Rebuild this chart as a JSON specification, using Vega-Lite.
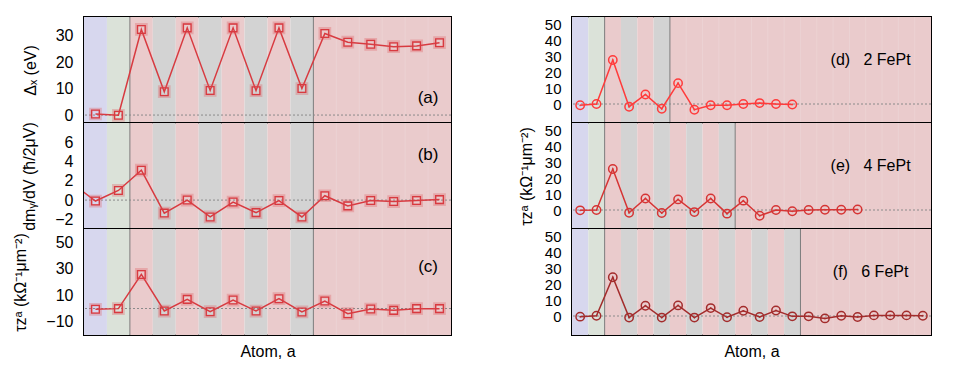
{
  "$schema": "https://vega.github.io/schema/vega-lite/v6.json",
  "padding": {"left": 11, "top": 15, "right": 5, "bottom": 5},
  "config": {
    "font": "Liberation Sans",
    "view": {"stroke": "black", "strokeWidth": 2},
    "axis": {"grid": false, "labelColor": "black", "titleColor": "black", "titleFontWeight": "normal", "labelFont": "Liberation Sans", "titleFont": "Liberation Sans"}
  },
  "datasets": {
    "bandsL": [
      {"lo": 0.5, "hi": 1.5, "k": "blue"}, {"lo": 1.5, "hi": 2.5, "k": "green"},
      {"lo": 2.5, "hi": 3.5, "k": "red"}, {"lo": 3.5, "hi": 4.5, "k": "gray"},
      {"lo": 4.5, "hi": 5.5, "k": "red"}, {"lo": 5.5, "hi": 6.5, "k": "gray"},
      {"lo": 6.5, "hi": 7.5, "k": "red"}, {"lo": 7.5, "hi": 8.5, "k": "gray"},
      {"lo": 8.5, "hi": 9.5, "k": "red"}, {"lo": 9.5, "hi": 10.5, "k": "gray"},
      {"lo": 10.5, "hi": 16.5, "k": "red"}
    ],
    "bandsD": [
      {"lo": 0.5, "hi": 1.5, "k": "blue"}, {"lo": 1.5, "hi": 2.5, "k": "green"},
      {"lo": 2.5, "hi": 3.5, "k": "red"}, {"lo": 3.5, "hi": 4.5, "k": "gray"},
      {"lo": 4.5, "hi": 5.5, "k": "red"}, {"lo": 5.5, "hi": 6.5, "k": "gray"},
      {"lo": 6.5, "hi": 22.5, "k": "red"}
    ],
    "bandsE": [
      {"lo": 0.5, "hi": 1.5, "k": "blue"}, {"lo": 1.5, "hi": 2.5, "k": "green"},
      {"lo": 2.5, "hi": 3.5, "k": "red"}, {"lo": 3.5, "hi": 4.5, "k": "gray"},
      {"lo": 4.5, "hi": 5.5, "k": "red"}, {"lo": 5.5, "hi": 6.5, "k": "gray"},
      {"lo": 6.5, "hi": 7.5, "k": "red"}, {"lo": 7.5, "hi": 8.5, "k": "gray"},
      {"lo": 8.5, "hi": 9.5, "k": "red"}, {"lo": 9.5, "hi": 10.5, "k": "gray"},
      {"lo": 10.5, "hi": 22.5, "k": "red"}
    ],
    "bandsF": [
      {"lo": 0.5, "hi": 1.5, "k": "blue"}, {"lo": 1.5, "hi": 2.5, "k": "green"},
      {"lo": 2.5, "hi": 3.5, "k": "red"}, {"lo": 3.5, "hi": 4.5, "k": "gray"},
      {"lo": 4.5, "hi": 5.5, "k": "red"}, {"lo": 5.5, "hi": 6.5, "k": "gray"},
      {"lo": 6.5, "hi": 7.5, "k": "red"}, {"lo": 7.5, "hi": 8.5, "k": "gray"},
      {"lo": 8.5, "hi": 9.5, "k": "red"}, {"lo": 9.5, "hi": 10.5, "k": "gray"},
      {"lo": 10.5, "hi": 11.5, "k": "red"}, {"lo": 11.5, "hi": 12.5, "k": "gray"},
      {"lo": 12.5, "hi": 13.5, "k": "red"}, {"lo": 13.5, "hi": 14.5, "k": "gray"},
      {"lo": 14.5, "hi": 22.5, "k": "red"}
    ],
    "divL": [
      {"x": 2.5, "k": "dark"}, {"x": 10.5, "k": "dark"},
      {"x": 11.5, "k": "faint"}, {"x": 12.5, "k": "faint"}, {"x": 13.5, "k": "faint"}, {"x": 14.5, "k": "faint"}, {"x": 15.5, "k": "faint"}
    ],
    "divD": [
      {"x": 2.5, "k": "dark"}, {"x": 6.5, "k": "dark"},
      {"x": 7.5, "k": "faint"}, {"x": 8.5, "k": "faint"}, {"x": 9.5, "k": "faint"}, {"x": 10.5, "k": "faint"}, {"x": 11.5, "k": "faint"},
      {"x": 12.5, "k": "faint"}, {"x": 13.5, "k": "faint"}, {"x": 14.5, "k": "faint"}, {"x": 15.5, "k": "faint"}, {"x": 16.5, "k": "faint"},
      {"x": 17.5, "k": "faint"}, {"x": 18.5, "k": "faint"}, {"x": 19.5, "k": "faint"}, {"x": 20.5, "k": "faint"}, {"x": 21.5, "k": "faint"}
    ],
    "divE": [
      {"x": 2.5, "k": "dark"}, {"x": 10.5, "k": "dark"},
      {"x": 11.5, "k": "faint"}, {"x": 12.5, "k": "faint"}, {"x": 13.5, "k": "faint"}, {"x": 14.5, "k": "faint"}, {"x": 15.5, "k": "faint"},
      {"x": 16.5, "k": "faint"}, {"x": 17.5, "k": "faint"}, {"x": 18.5, "k": "faint"}, {"x": 19.5, "k": "faint"}, {"x": 20.5, "k": "faint"}, {"x": 21.5, "k": "faint"}
    ],
    "divF": [
      {"x": 2.5, "k": "dark"}, {"x": 14.5, "k": "dark"},
      {"x": 15.5, "k": "faint"}, {"x": 16.5, "k": "faint"}, {"x": 17.5, "k": "faint"}, {"x": 18.5, "k": "faint"}, {"x": 19.5, "k": "faint"}, {"x": 20.5, "k": "faint"}, {"x": 21.5, "k": "faint"}
    ],
    "a": [
      {"atom": 1, "v": 0.4}, {"atom": 2, "v": -0.1}, {"atom": 3, "v": 32.3}, {"atom": 4, "v": 8.8},
      {"atom": 5, "v": 32.9}, {"atom": 6, "v": 9.3}, {"atom": 7, "v": 32.9}, {"atom": 8, "v": 9.2},
      {"atom": 9, "v": 32.9}, {"atom": 10, "v": 10.0}, {"atom": 11, "v": 30.8}, {"atom": 12, "v": 27.5},
      {"atom": 13, "v": 26.7}, {"atom": 14, "v": 25.8}, {"atom": 15, "v": 26.1}, {"atom": 16, "v": 27.3}
    ],
    "b": [
      {"atom": 0, "v": 1.7}, {"atom": 1, "v": -0.1}, {"atom": 2, "v": 1.0}, {"atom": 3, "v": 3.1}, {"atom": 4, "v": -1.35},
      {"atom": 5, "v": 0.0}, {"atom": 6, "v": -1.75}, {"atom": 7, "v": -0.2}, {"atom": 8, "v": -1.3},
      {"atom": 9, "v": -0.05}, {"atom": 10, "v": -1.75}, {"atom": 11, "v": 0.45}, {"atom": 12, "v": -0.6},
      {"atom": 13, "v": -0.05}, {"atom": 14, "v": -0.15}, {"atom": 15, "v": -0.05}, {"atom": 16, "v": 0.05}
    ],
    "c": [
      {"atom": 1, "v": -0.6}, {"atom": 2, "v": -0.1}, {"atom": 3, "v": 25.7}, {"atom": 4, "v": -1.9},
      {"atom": 5, "v": 6.9}, {"atom": 6, "v": -2.4}, {"atom": 7, "v": 6.4}, {"atom": 8, "v": -1.9},
      {"atom": 9, "v": 7.4}, {"atom": 10, "v": -2.6}, {"atom": 11, "v": 5.6}, {"atom": 12, "v": -3.9},
      {"atom": 13, "v": -0.4}, {"atom": 14, "v": -1.4}, {"atom": 15, "v": -0.1}, {"atom": 16, "v": -0.1}
    ],
    "d": [
      {"atom": 1, "v": -0.8}, {"atom": 2, "v": 0.0}, {"atom": 3, "v": 27.8}, {"atom": 4, "v": -1.7},
      {"atom": 5, "v": 6.0}, {"atom": 6, "v": -3.0}, {"atom": 7, "v": 13.2}, {"atom": 8, "v": -3.6},
      {"atom": 9, "v": -0.8}, {"atom": 10, "v": -0.8}, {"atom": 11, "v": 0.0}, {"atom": 12, "v": 0.6},
      {"atom": 13, "v": 0.0}, {"atom": 14, "v": -0.3}
    ],
    "e": [
      {"atom": 1, "v": -0.2}, {"atom": 2, "v": 0.0}, {"atom": 3, "v": 25.9}, {"atom": 4, "v": -1.7},
      {"atom": 5, "v": 7.3}, {"atom": 6, "v": -1.9}, {"atom": 7, "v": 6.7}, {"atom": 8, "v": -1.3},
      {"atom": 9, "v": 7.3}, {"atom": 10, "v": -2.3}, {"atom": 11, "v": 5.9}, {"atom": 12, "v": -3.6},
      {"atom": 13, "v": 0.0}, {"atom": 14, "v": -0.8}, {"atom": 15, "v": 0.0}, {"atom": 16, "v": 0.2},
      {"atom": 17, "v": 0.2}, {"atom": 18, "v": 0.3}
    ],
    "f": [
      {"atom": 1, "v": -0.4}, {"atom": 2, "v": 0.2}, {"atom": 3, "v": 24.5}, {"atom": 4, "v": -1.0},
      {"atom": 5, "v": 6.5}, {"atom": 6, "v": -1.0}, {"atom": 7, "v": 6.7}, {"atom": 8, "v": -1.0},
      {"atom": 9, "v": 5.0}, {"atom": 10, "v": -0.8}, {"atom": 11, "v": 3.3}, {"atom": 12, "v": -0.6},
      {"atom": 13, "v": 3.5}, {"atom": 14, "v": -0.2}, {"atom": 15, "v": -0.2}, {"atom": 16, "v": -1.5},
      {"atom": 17, "v": 0.2}, {"atom": 18, "v": -0.6}, {"atom": 19, "v": 0.4}, {"atom": 20, "v": 0.4},
      {"atom": 21, "v": 0.4}, {"atom": 22, "v": 0.2}
    ]
  },
  "spacing": 64,
  "hconcat": [
    {
      "spacing": 0,
      "bounds": "flush",
      "vconcat": [
        {
          "width": 367, "height": 106,
          "resolve": {"axis": {"y": "independent"}},
          "layer": [
            {"data": {"name": "bandsL"}, "mark": {"type": "rect"},
             "encoding": {"x": {"field": "lo", "type": "quantitative", "scale": {"domain": [0.5, 16.5], "nice": false, "zero": false}, "axis": null}, "x2": {"field": "hi"},
               "color": {"field": "k", "type": "nominal", "scale": {"domain": ["blue", "green", "red", "gray"], "range": ["#d7d7ee", "#dbe2d9", "#eacbcc", "#d3d3d3"]}, "legend": null}}},
            {"data": {"name": "divL"}, "mark": {"type": "rule", "strokeWidth": 1},
             "encoding": {"x": {"field": "x", "type": "quantitative"}, "stroke": {"field": "k", "type": "nominal", "scale": {"domain": ["dark", "faint"], "range": ["#7c7c7c", "#ecd2d3"]}, "legend": null}}},
            {"data": {"values": [{"z": 0}]}, "mark": {"type": "rule", "strokeDash": [2, 2], "color": "#8a8a8a", "strokeWidth": 1},
             "encoding": {"y": {"field": "z", "type": "quantitative", "axis": {"orient": "right", "labels": false, "title": null, "domain": false, "tickSize": -6, "tickColor": "black", "tickWidth": 1.5, "values": [0, 10, 20, 30]}}}},
            {"data": {"name": "a"}, "mark": {"type": "line", "color": "#d83a40", "strokeWidth": 1.5, "clip": true},
             "encoding": {"x": {"field": "atom", "type": "quantitative"},
               "y": {"field": "v", "type": "quantitative", "scale": {"domain": [-3, 37], "nice": false, "zero": false},
                 "axis": {"orient": "left", "values": [0, 10, 20, 30], "ticks": false, "domain": false, "labelFontSize": 16, "labelPadding": 11, "title": "Δₓ (eV)", "titleFontSize": 16, "titlePadding": 17}}}},
            {"data": {"name": "a"}, "mark": {"type": "point", "shape": "square", "size": 85, "strokeWidth": 3.5, "color": "#e0555a", "opacity": 0.3, "clip": true},
             "encoding": {"x": {"field": "atom", "type": "quantitative"}, "y": {"field": "v", "type": "quantitative", "axis": null}}},
            {"data": {"name": "a"}, "mark": {"type": "point", "shape": "square", "size": 60, "strokeWidth": 1.3, "color": "#d83a40", "opacity": 1, "clip": true},
             "encoding": {"x": {"field": "atom", "type": "quantitative"}, "y": {"field": "v", "type": "quantitative", "axis": null}}},
            {"data": {"values": [{"x": 15.5, "y": 6.4, "t": "(a)"}]}, "mark": {"type": "text", "fontSize": 17, "color": "black"},
             "encoding": {"x": {"field": "x", "type": "quantitative"}, "y": {"field": "y", "type": "quantitative", "axis": null}, "text": {"field": "t"}}}
          ]
        },
        {
          "width": 367, "height": 106,
          "resolve": {"axis": {"y": "independent"}},
          "layer": [
            {"data": {"name": "bandsL"}, "mark": {"type": "rect"},
             "encoding": {"x": {"field": "lo", "type": "quantitative", "scale": {"domain": [0.5, 16.5], "nice": false, "zero": false}, "axis": null}, "x2": {"field": "hi"},
               "color": {"field": "k", "type": "nominal", "scale": {"domain": ["blue", "green", "red", "gray"], "range": ["#d7d7ee", "#dbe2d9", "#eacbcc", "#d3d3d3"]}, "legend": null}}},
            {"data": {"name": "divL"}, "mark": {"type": "rule", "strokeWidth": 1},
             "encoding": {"x": {"field": "x", "type": "quantitative"}, "stroke": {"field": "k", "type": "nominal", "scale": {"domain": ["dark", "faint"], "range": ["#7c7c7c", "#ecd2d3"]}, "legend": null}}},
            {"data": {"values": [{"z": 0}]}, "mark": {"type": "rule", "strokeDash": [2, 2], "color": "#8a8a8a", "strokeWidth": 1},
             "encoding": {"y": {"field": "z", "type": "quantitative", "axis": {"orient": "right", "labels": false, "title": null, "domain": false, "tickSize": -6, "tickColor": "black", "tickWidth": 1.5, "values": [-2, 0, 2, 4, 6]}}}},
            {"data": {"name": "b"}, "mark": {"type": "line", "color": "#d83a40", "strokeWidth": 1.5, "clip": true},
             "encoding": {"x": {"field": "atom", "type": "quantitative"},
               "y": {"field": "v", "type": "quantitative", "scale": {"domain": [-3, 8], "nice": false, "zero": false},
                 "axis": {"orient": "left", "values": [-2, 0, 2, 4, 6], "ticks": false, "domain": false, "labelFontSize": 16, "labelPadding": 11, "title": "dmᵧ/dV (ħ/2μV)", "titleFontSize": 16, "titlePadding": 17}}}},
            {"data": {"name": "b"}, "mark": {"type": "point", "shape": "square", "size": 85, "strokeWidth": 3.5, "color": "#e0555a", "opacity": 0.3, "clip": true},
             "encoding": {"x": {"field": "atom", "type": "quantitative"}, "y": {"field": "v", "type": "quantitative", "axis": null}}},
            {"data": {"name": "b"}, "mark": {"type": "point", "shape": "square", "size": 60, "strokeWidth": 1.3, "color": "#d83a40", "opacity": 1, "clip": true},
             "encoding": {"x": {"field": "atom", "type": "quantitative"}, "y": {"field": "v", "type": "quantitative", "axis": null}}},
            {"data": {"values": [{"x": 15.5, "y": 4.7, "t": "(b)"}]}, "mark": {"type": "text", "fontSize": 17, "color": "black"},
             "encoding": {"x": {"field": "x", "type": "quantitative"}, "y": {"field": "y", "type": "quantitative", "axis": null}, "text": {"field": "t"}}}
          ]
        },
        {
          "width": 367, "height": 106,
          "resolve": {"axis": {"y": "independent"}},
          "layer": [
            {"data": {"name": "bandsL"}, "mark": {"type": "rect"},
             "encoding": {"x": {"field": "lo", "type": "quantitative", "scale": {"domain": [0.5, 16.5], "nice": false, "zero": false},
                 "axis": {"orient": "bottom", "labels": false, "ticks": false, "domain": false, "title": "Atom, a", "titleFontSize": 16, "titlePadding": 8}}, "x2": {"field": "hi"},
               "color": {"field": "k", "type": "nominal", "scale": {"domain": ["blue", "green", "red", "gray"], "range": ["#d7d7ee", "#dbe2d9", "#eacbcc", "#d3d3d3"]}, "legend": null}}},
            {"data": {"name": "divL"}, "mark": {"type": "rule", "strokeWidth": 1},
             "encoding": {"x": {"field": "x", "type": "quantitative"}, "stroke": {"field": "k", "type": "nominal", "scale": {"domain": ["dark", "faint"], "range": ["#7c7c7c", "#ecd2d3"]}, "legend": null}}},
            {"data": {"values": [{"z": 0}]}, "mark": {"type": "rule", "strokeDash": [2, 2], "color": "#8a8a8a", "strokeWidth": 1},
             "encoding": {"y": {"field": "z", "type": "quantitative", "axis": {"orient": "right", "labels": false, "title": null, "domain": false, "tickSize": -6, "tickColor": "black", "tickWidth": 1.5, "values": [-10, 10, 30, 50]}}}},
            {"data": {"name": "c"}, "mark": {"type": "line", "color": "#d83a40", "strokeWidth": 1.5, "clip": true},
             "encoding": {"x": {"field": "atom", "type": "quantitative"},
               "y": {"field": "v", "type": "quantitative", "scale": {"domain": [-20, 60], "nice": false, "zero": false},
                 "axis": {"orient": "left", "values": [-10, 10, 30, 50], "ticks": false, "domain": false, "labelFontSize": 16, "labelPadding": 11, "title": "τzᵃ (kΩ⁻¹μm⁻²)", "titleFontSize": 16, "titlePadding": 17}}}},
            {"data": {"name": "c"}, "mark": {"type": "point", "shape": "square", "size": 85, "strokeWidth": 3.5, "color": "#e0555a", "opacity": 0.3, "clip": true},
             "encoding": {"x": {"field": "atom", "type": "quantitative"}, "y": {"field": "v", "type": "quantitative", "axis": null}}},
            {"data": {"name": "c"}, "mark": {"type": "point", "shape": "square", "size": 60, "strokeWidth": 1.3, "color": "#d83a40", "opacity": 1, "clip": true},
             "encoding": {"x": {"field": "atom", "type": "quantitative"}, "y": {"field": "v", "type": "quantitative", "axis": null}}},
            {"data": {"values": [{"x": 15.5, "y": 31, "t": "(c)"}]}, "mark": {"type": "text", "fontSize": 17, "color": "black"},
             "encoding": {"x": {"field": "x", "type": "quantitative"}, "y": {"field": "y", "type": "quantitative", "axis": null}, "text": {"field": "t"}}}
          ]
        }
      ]
    },
    {
      "spacing": 0,
      "bounds": "flush",
      "vconcat": [
        {
          "width": 359, "height": 106,
          "resolve": {"axis": {"y": "independent"}},
          "layer": [
            {"data": {"name": "bandsD"}, "mark": {"type": "rect"},
             "encoding": {"x": {"field": "lo", "type": "quantitative", "scale": {"domain": [0.5, 22.5], "nice": false, "zero": false}, "axis": null}, "x2": {"field": "hi"},
               "color": {"field": "k", "type": "nominal", "scale": {"domain": ["blue", "green", "red", "gray"], "range": ["#d7d7ee", "#dbe2d9", "#eacbcc", "#d3d3d3"]}, "legend": null}}},
            {"data": {"name": "divD"}, "mark": {"type": "rule", "strokeWidth": 1},
             "encoding": {"x": {"field": "x", "type": "quantitative"}, "stroke": {"field": "k", "type": "nominal", "scale": {"domain": ["dark", "faint"], "range": ["#7c7c7c", "#ecd2d3"]}, "legend": null}}},
            {"data": {"values": [{"z": 0}]}, "mark": {"type": "rule", "strokeDash": [2, 2], "color": "#8a8a8a", "strokeWidth": 1},
             "encoding": {"y": {"field": "z", "type": "quantitative", "axis": {"orient": "right", "labels": false, "title": null, "domain": false, "tickSize": -6, "tickColor": "black", "tickWidth": 1.5, "values": [0, 10, 20, 30, 40, 50]}}}},
            {"data": {"name": "d"}, "mark": {"type": "line", "color": "#ff3b3b", "strokeWidth": 1.5, "clip": true},
             "encoding": {"x": {"field": "atom", "type": "quantitative"},
               "y": {"field": "v", "type": "quantitative", "scale": {"domain": [-12, 55], "nice": false, "zero": false},
                 "axis": {"orient": "left", "values": [0, 10, 20, 30, 40, 50], "ticks": false, "domain": false, "labelFontSize": 15, "labelPadding": 11, "title": null}}}},
            {"data": {"name": "d"}, "mark": {"type": "point", "shape": "circle", "size": 70, "strokeWidth": 1.5, "color": "#ff3b3b", "opacity": 1, "clip": true},
             "encoding": {"x": {"field": "atom", "type": "quantitative"}, "y": {"field": "v", "type": "quantitative", "axis": null}}},
            {"data": {"name": "d"}, "mark": {"type": "point", "shape": "circle", "size": 3, "filled": true, "color": "#ff3b3b", "opacity": 1, "clip": true},
             "encoding": {"x": {"field": "atom", "type": "quantitative"}, "y": {"field": "v", "type": "quantitative", "axis": null}}},
            {"data": {"values": [{"x": 18.8, "y": 28, "t": "(d)\u00a0\u00a0\u00a02 FePt"}]}, "mark": {"type": "text", "fontSize": 16, "color": "black"},
             "encoding": {"x": {"field": "x", "type": "quantitative"}, "y": {"field": "y", "type": "quantitative", "axis": null}, "text": {"field": "t"}}}
          ]
        },
        {
          "width": 359, "height": 106,
          "resolve": {"axis": {"y": "independent"}},
          "layer": [
            {"data": {"name": "bandsE"}, "mark": {"type": "rect"},
             "encoding": {"x": {"field": "lo", "type": "quantitative", "scale": {"domain": [0.5, 22.5], "nice": false, "zero": false}, "axis": null}, "x2": {"field": "hi"},
               "color": {"field": "k", "type": "nominal", "scale": {"domain": ["blue", "green", "red", "gray"], "range": ["#d7d7ee", "#dbe2d9", "#eacbcc", "#d3d3d3"]}, "legend": null}}},
            {"data": {"name": "divE"}, "mark": {"type": "rule", "strokeWidth": 1},
             "encoding": {"x": {"field": "x", "type": "quantitative"}, "stroke": {"field": "k", "type": "nominal", "scale": {"domain": ["dark", "faint"], "range": ["#7c7c7c", "#ecd2d3"]}, "legend": null}}},
            {"data": {"values": [{"z": 0}]}, "mark": {"type": "rule", "strokeDash": [2, 2], "color": "#8a8a8a", "strokeWidth": 1},
             "encoding": {"y": {"field": "z", "type": "quantitative", "axis": {"orient": "right", "labels": false, "title": null, "domain": false, "tickSize": -6, "tickColor": "black", "tickWidth": 1.5, "values": [0, 10, 20, 30, 40, 50]}}}},
            {"data": {"name": "e"}, "mark": {"type": "line", "color": "#d63434", "strokeWidth": 1.5, "clip": true},
             "encoding": {"x": {"field": "atom", "type": "quantitative"},
               "y": {"field": "v", "type": "quantitative", "scale": {"domain": [-12, 55], "nice": false, "zero": false},
                 "axis": {"orient": "left", "values": [0, 10, 20, 30, 40, 50], "ticks": false, "domain": false, "labelFontSize": 15, "labelPadding": 11, "title": "τzᵃ (kΩ⁻¹μm⁻²)", "titleFontSize": 16, "titlePadding": 10}}}},
            {"data": {"name": "e"}, "mark": {"type": "point", "shape": "circle", "size": 70, "strokeWidth": 1.5, "color": "#d63434", "opacity": 1, "clip": true},
             "encoding": {"x": {"field": "atom", "type": "quantitative"}, "y": {"field": "v", "type": "quantitative", "axis": null}}},
            {"data": {"name": "e"}, "mark": {"type": "point", "shape": "circle", "size": 3, "filled": true, "color": "#d63434", "opacity": 1, "clip": true},
             "encoding": {"x": {"field": "atom", "type": "quantitative"}, "y": {"field": "v", "type": "quantitative", "axis": null}}},
            {"data": {"values": [{"x": 18.8, "y": 28, "t": "(e)\u00a0\u00a0\u00a04 FePt"}]}, "mark": {"type": "text", "fontSize": 16, "color": "black"},
             "encoding": {"x": {"field": "x", "type": "quantitative"}, "y": {"field": "y", "type": "quantitative", "axis": null}, "text": {"field": "t"}}}
          ]
        },
        {
          "width": 359, "height": 106,
          "resolve": {"axis": {"y": "independent"}},
          "layer": [
            {"data": {"name": "bandsF"}, "mark": {"type": "rect"},
             "encoding": {"x": {"field": "lo", "type": "quantitative", "scale": {"domain": [0.5, 22.5], "nice": false, "zero": false},
                 "axis": {"orient": "bottom", "labels": false, "ticks": false, "domain": false, "title": "Atom, a", "titleFontSize": 16, "titlePadding": 8}}, "x2": {"field": "hi"},
               "color": {"field": "k", "type": "nominal", "scale": {"domain": ["blue", "green", "red", "gray"], "range": ["#d7d7ee", "#dbe2d9", "#eacbcc", "#d3d3d3"]}, "legend": null}}},
            {"data": {"name": "divF"}, "mark": {"type": "rule", "strokeWidth": 1},
             "encoding": {"x": {"field": "x", "type": "quantitative"}, "stroke": {"field": "k", "type": "nominal", "scale": {"domain": ["dark", "faint"], "range": ["#7c7c7c", "#ecd2d3"]}, "legend": null}}},
            {"data": {"values": [{"z": 0}]}, "mark": {"type": "rule", "strokeDash": [2, 2], "color": "#8a8a8a", "strokeWidth": 1},
             "encoding": {"y": {"field": "z", "type": "quantitative", "axis": {"orient": "right", "labels": false, "title": null, "domain": false, "tickSize": -6, "tickColor": "black", "tickWidth": 1.5, "values": [0, 10, 20, 30, 40, 50]}}}},
            {"data": {"name": "f"}, "mark": {"type": "line", "color": "#a32c2c", "strokeWidth": 1.5, "clip": true},
             "encoding": {"x": {"field": "atom", "type": "quantitative"},
               "y": {"field": "v", "type": "quantitative", "scale": {"domain": [-12, 55], "nice": false, "zero": false},
                 "axis": {"orient": "left", "values": [0, 10, 20, 30, 40, 50], "ticks": false, "domain": false, "labelFontSize": 15, "labelPadding": 11, "title": null}}}},
            {"data": {"name": "f"}, "mark": {"type": "point", "shape": "circle", "size": 70, "strokeWidth": 1.5, "color": "#a32c2c", "opacity": 1, "clip": true},
             "encoding": {"x": {"field": "atom", "type": "quantitative"}, "y": {"field": "v", "type": "quantitative", "axis": null}}},
            {"data": {"name": "f"}, "mark": {"type": "point", "shape": "circle", "size": 3, "filled": true, "color": "#a32c2c", "opacity": 1, "clip": true},
             "encoding": {"x": {"field": "atom", "type": "quantitative"}, "y": {"field": "v", "type": "quantitative", "axis": null}}},
            {"data": {"values": [{"x": 18.8, "y": 28, "t": "(f)\u00a0\u00a0\u00a06 FePt"}]}, "mark": {"type": "text", "fontSize": 16, "color": "black"},
             "encoding": {"x": {"field": "x", "type": "quantitative"}, "y": {"field": "y", "type": "quantitative", "axis": null}, "text": {"field": "t"}}}
          ]
        }
      ]
    }
  ]
}
